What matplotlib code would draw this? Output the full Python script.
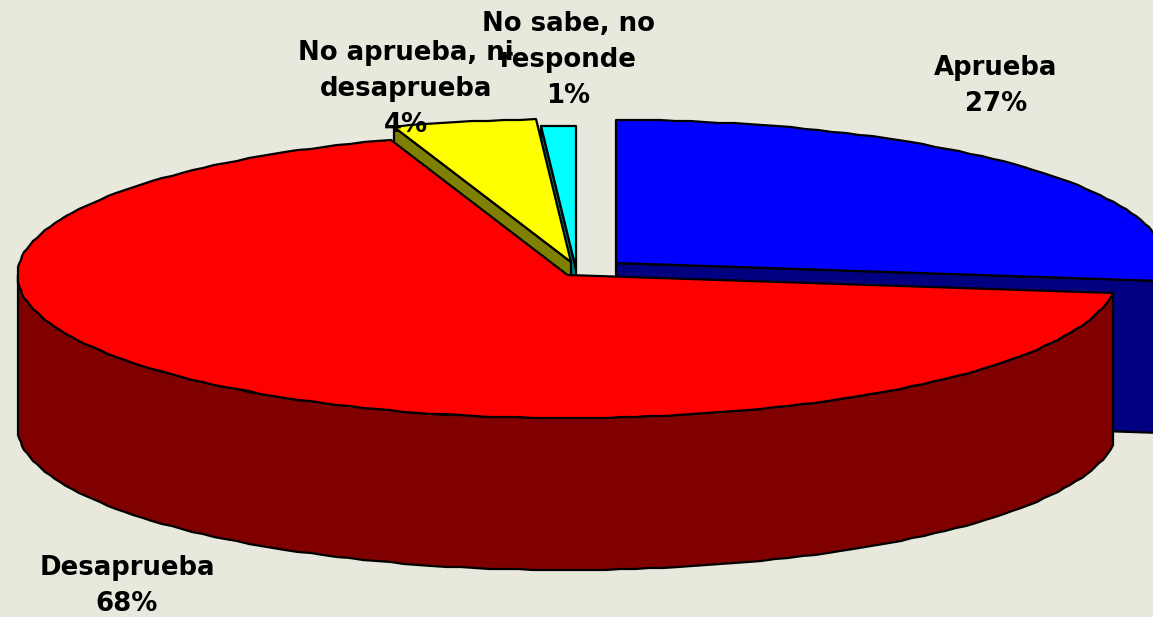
import numpy as np
import matplotlib
matplotlib.use('Agg')
import matplotlib.pyplot as plt

# Data
labels = ['Aprueba', 'Desaprueba', 'No aprueba, ni\ndesaprueba', 'No sabe, no\nresponde']
values = [27.0, 67.8, 4.2, 1.0]
shown_pct = [27, 68, 4, 1]

top_colors = ['#0000ff', '#ff0000', '#ffff00', '#00ffff']
side_colors = ['#000080', '#800000', '#808000', '#008080']

# slice centres in pixels, ellipse radii and thickness of the pie
centers = [(616, 263), (567.5, 275), (571, 262), (576, 269)]
rx = 550
ry = 143
depth = 152
label_pos = [(996, 86), (127, 586), (406, 89), (568, 60)]

bg = '#e8e8dc'
edge = dict(edgecolor='black', linewidth=1.6, joinstyle='round')

plt.rcParams['font.family'] = ['DejaVu Sans']

fig = plt.figure(figsize=(11.53, 6.17), dpi=100, facecolor=bg)
ax = fig.add_axes([0, 0, 1, 1])
ax.set_xlim(0, 1153)
ax.set_ylim(617, 0)
ax.axis('off')


# angle is clockwise from 12 o'clock, like the pie itself
def rim(cx, cy, a, b):
    t = np.radians(np.linspace(a, b, max(int(abs(b - a) / 1.5), 2)))
    pts = np.column_stack([cx + rx * np.sin(t), cy - ry * np.cos(t)])
    # the original outline is a bit wobbly
    return np.round(pts)


def cut_face(cx, cy, angle, color, z):
    p = rim(cx, cy, angle, angle)[0]
    xs = [cx, p[0], p[0], cx]
    ys = [cy, p[1], p[1] + depth, cy + depth]
    ax.fill(xs, ys, facecolor=color, zorder=z, **edge)


stops = np.cumsum([0] + values) * 360 / sum(values)

# back slices first, red goes on top of everything
order = [0, 3, 2, 1]
for z, i in enumerate(order, start=2):
    cx, cy = centers[i]
    a, b = stops[i], stops[i + 1]

    # cut faces that look towards the viewer
    if 180 < a < 360:
        cut_face(cx, cy, a, side_colors[i], z)
    if 0 < b < 180:
        cut_face(cx, cy, b, side_colors[i], z)

    # outer wall, only the part of the rim that faces the viewer
    lo, hi = max(a, 90), min(b, 270)
    if lo < hi:
        front = rim(cx, cy, lo, hi)
        wall = np.vstack([front, front[::-1] + [0, depth]])
        ax.fill(wall[:, 0], wall[:, 1], facecolor=side_colors[i], zorder=z, **edge)

    top = np.vstack([[cx, cy], rim(cx, cy, a, b)])
    ax.fill(top[:, 0], top[:, 1], facecolor=top_colors[i], zorder=z, **edge)

for lab, pct, (x, y) in zip(labels, shown_pct, label_pos):
    ax.text(x, y, f'{lab}\n{pct}%', ha='center', va='center', fontsize=18.7,
            fontweight='bold', color='black', linespacing=1.5, zorder=10)

plt.savefig('out.png', dpi=100, facecolor=bg)
